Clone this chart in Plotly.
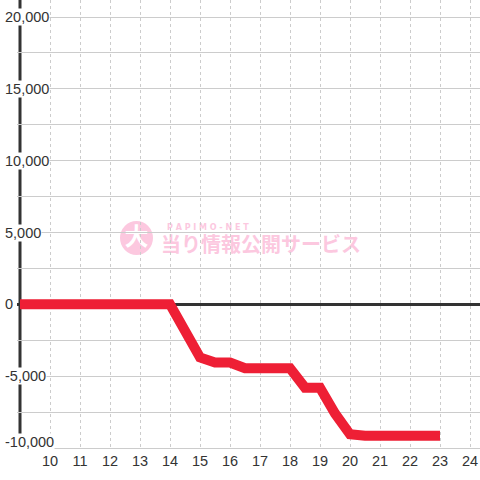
import plotly.graph_objects as go

# Data
hours = [9, 14, 15, 15.5, 16, 16.5, 17, 18, 18.5, 19, 19.5, 20, 20.5, 21, 22, 23]
values = [0, 0, -3700, -4050, -4050, -4450, -4450, -4450, -5800, -5800, -7600, -9050, -9150, -9150, -9150, -9150]
x_ticks = list(range(10, 25))
y_ticks = [-10000, -5000, 0, 5000, 10000, 15000, 20000]
y_tick_labels = [f"{v:,}" for v in y_ticks]

FONT = "Liberation Sans, Arial, sans-serif"
PINK = "#fcc8df"

fig = go.Figure()
fig.add_trace(go.Scatter(
    x=hours, y=values, mode="lines",
    line=dict(color="#ee1f35", width=10),
    hoverinfo="skip", showlegend=False,
))

# Left axis line (drawn as a shape so it sits at x=9)
fig.add_shape(type="line", xref="x", yref="paper", x0=9, x1=9, y0=0, y1=1,
              line=dict(color="#333333", width=3), layer="below")

# Watermark
fig.add_shape(type="circle", xref="paper", yref="paper",
              x0=(120 - 17) / 463, x1=(153 - 17) / 463,
              y0=(448 - 255) / 448, y1=(448 - 221) / 448,
              fillcolor=PINK, line=dict(width=0), layer="below",
              label=dict(text="大", font=dict(family="Noto Sans CJK JP", size=24, color="white", weight="bold")))
fig.add_shape(type="rect", xref="paper", yref="paper",
              x0=(159 - 17) / 463, x1=(363 - 17) / 463,
              y0=(448 - 256) / 448, y1=(448 - 236) / 448,
              fillcolor="rgba(0,0,0,0)", line=dict(width=0), layer="below",
              label=dict(text="当り情報公開サービス", textposition="middle center",
                         font=dict(family="Noto Sans CJK JP", size=20, color=PINK, weight="bold")))
fig.add_shape(type="rect", xref="paper", yref="paper",
              x0=(161 - 17) / 463, x1=(220 - 17) / 463,
              y0=(448 - 231) / 448, y1=(448 - 221) / 448,
              fillcolor="rgba(0,0,0,0)", line=dict(width=0), layer="below",
              label=dict(text="P A P I M O - N E T", textposition="middle left",
                         font=dict(family="DejaVu Sans", size=8, color=PINK, weight="bold")))

# Y tick labels with white backgrounds over the axis line
for v, t in zip(y_ticks, y_tick_labels):
    fig.add_annotation(x=-13 / 463, xref="paper", y=v, yref="y", text=t,
                       showarrow=False, xanchor="left", yanchor="middle",
                       yshift=6 if v == y_ticks[0] else 0,
                       bgcolor="white", borderpad=0,
                       font=dict(family=FONT, size=14.5, color="#333333"))

fig.update_layout(
    width=480, height=480,
    margin=dict(l=17, r=0, t=0, b=32),
    paper_bgcolor="white", plot_bgcolor="white",
    showlegend=False,
    xaxis=dict(
        range=[8.9, 8.9 + 463 / 30],
        tickmode="array", tickvals=x_ticks, ticktext=[str(t) for t in x_ticks],
        showgrid=True, gridcolor="#cccccc", gridwidth=1, griddash="3px,3px",
        zeroline=False, showline=True, linecolor="#cccccc", linewidth=1,
        ticks="", tickfont=dict(family=FONT, size=14.5, color="#333333"),
        fixedrange=True,
    ),
    yaxis=dict(
        range=[-10000, 20000 + 17 * 30000 / 431],
        tick0=0, dtick=2500,
        showgrid=True, gridcolor="#cccccc", gridwidth=1,
        zeroline=True, zerolinecolor="#333333", zerolinewidth=3,
        showticklabels=False, ticks="", showline=False,
        fixedrange=True,
    ),
)

fig.write_html("out.html", config={"displayModeBar": False},
               post_script="document.body.style.margin='0';")
